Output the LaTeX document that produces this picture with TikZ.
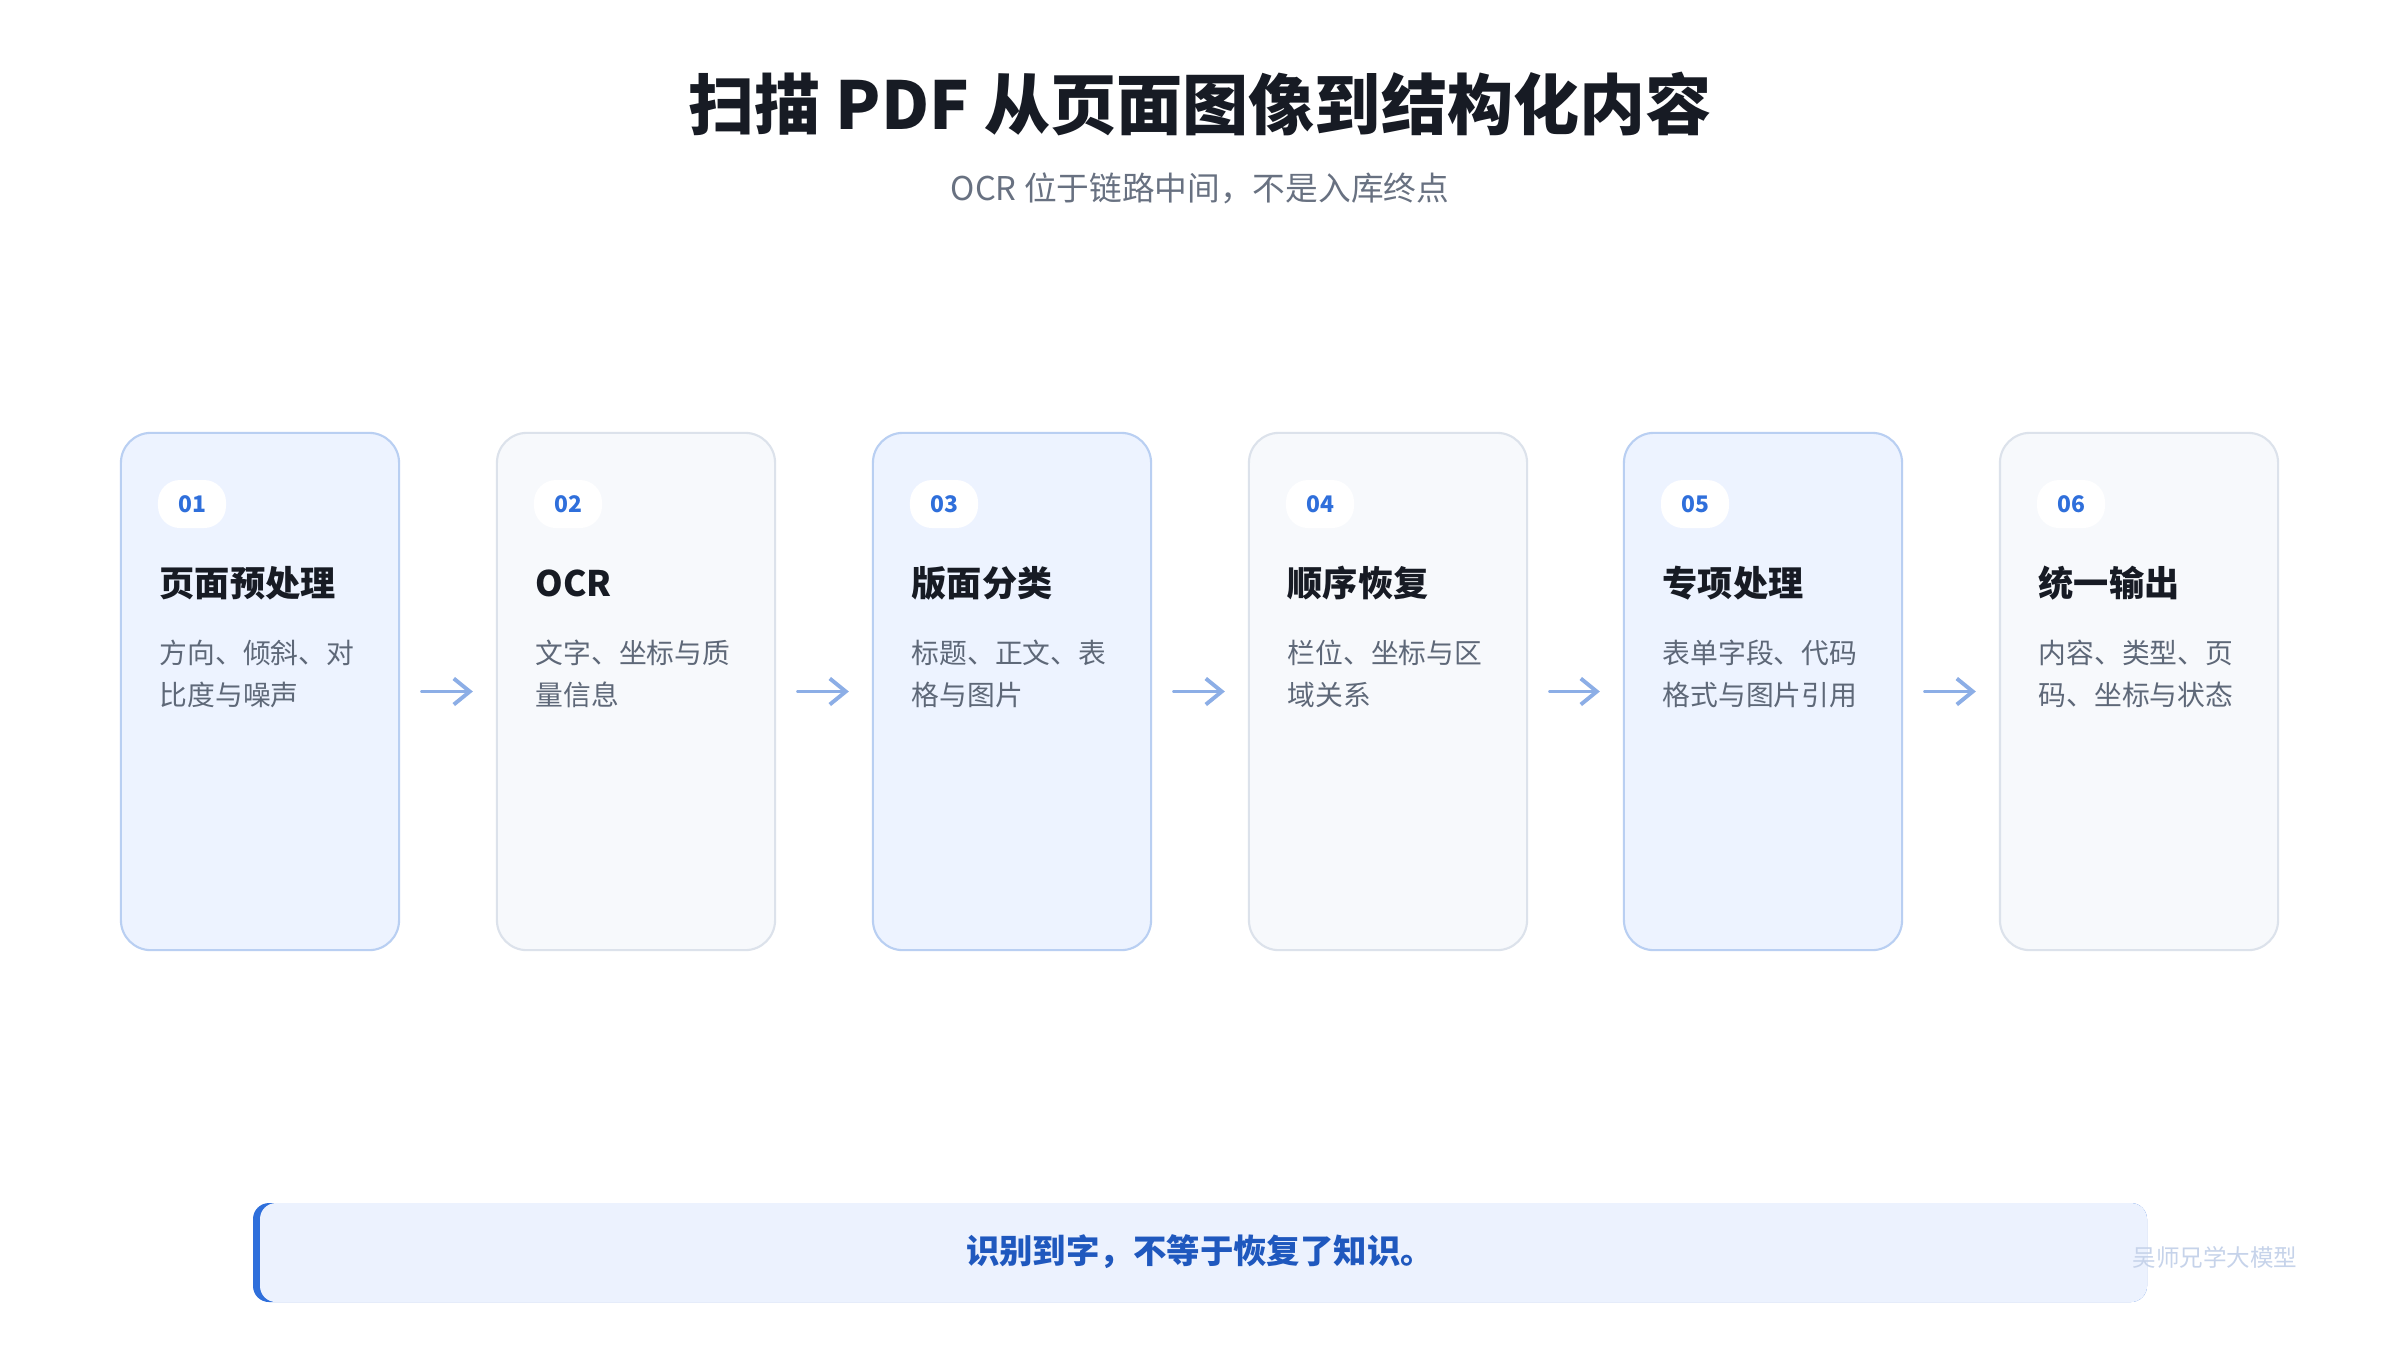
\documentclass[tikz,border=0pt]{standalone}
\usepackage{fontspec}
\setmainfont{Noto Sans CJK SC}
\usetikzlibrary{arrows.meta}
\definecolor{ink}{HTML}{171B24}
\definecolor{subgray}{HTML}{687181}
\definecolor{descgray}{HTML}{5E6878}
\definecolor{bluefill}{HTML}{EDF3FF}
\definecolor{blueline}{HTML}{B9CFF2}
\definecolor{grayfill}{HTML}{F7F9FC}
\definecolor{grayline}{HTML}{DCE2EB}
\definecolor{arrowblue}{HTML}{8CAEE6}
\definecolor{accent}{HTML}{2F6FDB}
\definecolor{barfill}{HTML}{ECF2FE}
\definecolor{lessonblue}{HTML}{1F58BE}
\definecolor{signgray}{HTML}{C6D3EA}

\begin{document}
\begin{tikzpicture}[x=0.01cm, y=-0.01cm,
    card/.style={draw, line width=0.6pt, rounded corners=0.3cm,
      minimum width=2.78cm, minimum height=5.17cm, inner sep=0},
    cardblue/.style={card, fill=bluefill, draw=blueline},
    cardgray/.style={card, fill=grayfill, draw=grayline},
    badge/.style={fill=white, rounded corners=0.22cm, minimum width=0.68cm,
      minimum height=0.48cm, inner sep=0, text=accent,
      font=\fontsize{6.5}{8}\selectfont\bfseries},
    steptitle/.style={anchor=west, inner sep=0, text=ink, text height=0.88em,
      text depth=0.12em, font=\fontsize{10}{12}\selectfont\bfseries},
    stepdesc/.style={anchor=north west, inner sep=0, align=left, text=descgray,
      font=\fontsize{7.9}{11.95}\selectfont},
    flow/.style={draw=arrowblue, line width=1.1pt, line cap=round,
      -{Straight Barb[length=1.6mm, width=2.6mm]},
      shorten <=0.22cm, shorten >=0.23cm}]
  \useasboundingbox (0,0) rectangle (2400,1350);
  \fill[white] (0,0) rectangle (2400,1350);

  % heading
  \node[font=\fontsize{18.8}{22}\selectfont\bfseries, text=ink] (title) at (1200,104)
    {扫描 PDF 从页面图像到结构化内容};
  \node[font=\fontsize{9.3}{11}\selectfont, text=subgray] (subtitle) at (1200,188)
    {OCR 位于链路中间，不是入库终点};

  % cards
  \node[cardblue] (pre) at (260,691.5) {};
  \node[cardgray] (ocr) at (636,691.5) {};
  \node[cardblue] (layout) at (1012,691.5) {};
  \node[cardgray] (order) at (1388,691.5) {};
  \node[cardblue] (special) at (1763,691.5) {};
  \node[cardgray] (output) at (2139,691.5) {};

  \node[badge] (pre-num) at (192,504) {01};
  \node[badge] (ocr-num) at (568,504) {02};
  \node[badge] (layout-num) at (944,504) {03};
  \node[badge] (order-num) at (1320,504) {04};
  \node[badge] (special-num) at (1695,504) {05};
  \node[badge] (output-num) at (2071,504) {06};

  \node[steptitle] (pre-title) at (159,583) {页面预处理};
  \node[steptitle] (ocr-title) at (535,583) {OCR};
  \node[steptitle] (layout-title) at (911,583) {版面分类};
  \node[steptitle] (order-title) at (1287,583) {顺序恢复};
  \node[steptitle] (special-title) at (1662,583) {专项处理};
  \node[steptitle] (output-title) at (2038,583) {统一输出};

  \node[stepdesc] (pre-desc) at (159,639) {方向、倾斜、对\\比度与噪声};
  \node[stepdesc] (ocr-desc) at (535,639) {文字、坐标与质\\量信息};
  \node[stepdesc] (layout-desc) at (911,639) {标题、正文、表\\格与图片};
  \node[stepdesc] (order-desc) at (1287,639) {栏位、坐标与区\\域关系};
  \node[stepdesc] (special-desc) at (1662,639) {表单字段、代码\\格式与图片引用};
  \node[stepdesc] (output-desc) at (2038,639) {内容、类型、页\\码、坐标与状态};

  \draw[flow] (pre) -- (ocr);
  \draw[flow] (ocr) -- (layout);
  \draw[flow] (layout) -- (order);
  \draw[flow] (order) -- (special);
  \draw[flow] (special) -- (output);

  % closing note
  \fill[accent, rounded corners=0.16cm] (253,1203) rectangle (2147,1302);
  \fill[barfill, rounded corners=0.16cm] (260,1203) rectangle (2147,1302);
  \node[font=\fontsize{9.5}{12}\selectfont\bfseries, text=lessonblue] (lesson) at (1200,1252)
    {识别到字，不等于恢复了知识。};
  \node[font=\fontsize{6.7}{8}\selectfont, text=signgray] (sign) at (2215,1257)
    {吴师兄学大模型};
\end{tikzpicture}
\end{document}
